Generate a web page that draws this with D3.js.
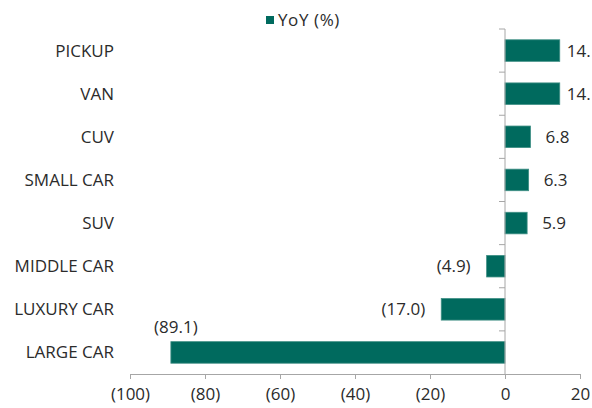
<!DOCTYPE html>
<html>
<head>
<meta charset="utf-8">
<script src="https://d3js.org/d3.v7.min.js"></script>
<style>
  body { margin: 0; background: #fff; }
  text { font-family: "Open Sans", sans-serif; fill: #2b2b2b; }
</style>
</head>
<body>
<script>
// data
var categories = ["PICKUP", "VAN", "CUV", "SMALL CAR", "SUV", "MIDDLE CAR", "LUXURY CAR", "LARGE CAR"];
var yoy = [14.6, 14.6, 6.8, 6.3, 5.9, -4.9, -17.0, -89.1];
var xTicks = [-100, -80, -60, -40, -20, 0, 20];
var seriesName = "YoY (%)";

var W = 592, H = 408;
var svg = d3.select("body")
  .append("svg")
    .attr("width", W)
    .attr("height", H);

var x = d3.scaleLinear().domain([-100, 20]).range([130, 580]);
var y = d3.scaleBand().domain(categories).range([29, 374]).paddingInner(0.5).paddingOuter(0.25);

var fmt = function(v) {
  var s = Math.abs(v).toFixed(1);
  return v < 0 ? "(" + s + ")" : s;
};
var tickFmt = function(v) { return v < 0 ? "(" + Math.abs(v) + ")" : String(v); };

// x axis
var xAxis = svg.append("g")
  .attr("transform", "translate(0,374)")
  .call(d3.axisBottom(x).tickValues(xTicks).tickFormat(tickFmt).tickSizeOuter(0).tickSize(5).tickPadding(9));
xAxis.select(".domain").attr("stroke", "#a6a6a6");
xAxis.selectAll(".tick line").attr("stroke", "#a6a6a6");
xAxis.selectAll("text").style("font-size", "17px").attr("fill", "#2b2b2b");

// bars
svg.append("g")
  .selectAll("rect")
    .data(yoy)
  .enter().append("rect")
    .attr("x", function(d) { return x(Math.min(0, d)); })
    .attr("y", function(d, i) { return y(categories[i]); })
    .attr("width", function(d) { return Math.abs(x(d) - x(0)); })
    .attr("height", y.bandwidth())
    .attr("fill", "#006a5e")
    .attr("stroke", "#3f8f85")
    .attr("stroke-width", 0.8);

// y axis line with ticks at band boundaries
var bounds = d3.range(categories.length).map(function(i) { return 29 + i * y.step(); });
svg.append("line")
  .attr("x1", x(0)).attr("x2", x(0))
  .attr("y1", 29).attr("y2", 374)
  .attr("stroke", "#a6a6a6");
svg.append("g")
  .selectAll("line")
    .data(bounds)
  .enter().append("line")
    .attr("x1", x(0) - 6).attr("x2", x(0))
    .attr("y1", function(d) { return d; }).attr("y2", function(d) { return d; })
    .attr("stroke", "#a6a6a6");

// category labels
svg.append("g")
  .selectAll("text")
    .data(categories)
  .enter().append("text")
    .attr("x", 114)
    .attr("y", function(d) { return y(d) + y.bandwidth() / 2; })
    .attr("dy", "0.35em")
    .attr("text-anchor", "end")
    .style("font-size", "17px")
    .text(function(d) { return d; });

// value labels; near the right edge they get pushed in and cut, like the source
var last = categories.length - 1;
svg.append("g")
  .selectAll("text")
    .data(yoy)
  .enter().append("text")
    .attr("x", function(d, i) {
      if (i === last) return x(d) + 5;
      if (d < 0) return x(d) - 16;
      return x(d) + 15 > 560 ? x(d) + 7 : x(d) + 15;
    })
    .attr("y", function(d, i) {
      var c = y(categories[i]) + y.bandwidth() / 2;
      return i === last ? c - 25 : c;
    })
    .attr("dy", "0.35em")
    .attr("text-anchor", function(d, i) {
      if (i === last) return "middle";
      return d >= 0 ? "start" : "end";
    })
    .style("font-size", "17px")
    .text(function(d) { return fmt(d); })
    .each(function() {
      var t = d3.select(this), s = t.text();
      while (s.length > 1 && this.getBBox().x + this.getBBox().width > W - 1) {
        s = s.slice(0, -1);
        t.text(s);
      }
    });

// legend
svg.append("rect")
  .attr("x", 266).attr("y", 16)
  .attr("width", 8).attr("height", 8)
  .attr("fill", "#006a5e");
svg.append("text")
  .attr("x", 278).attr("y", 20)
  .attr("dy", "0.35em")
  .style("font-size", "17px")
  .style("letter-spacing", "0.6px")
  .text(seriesName);
</script>
</body>
</html>
